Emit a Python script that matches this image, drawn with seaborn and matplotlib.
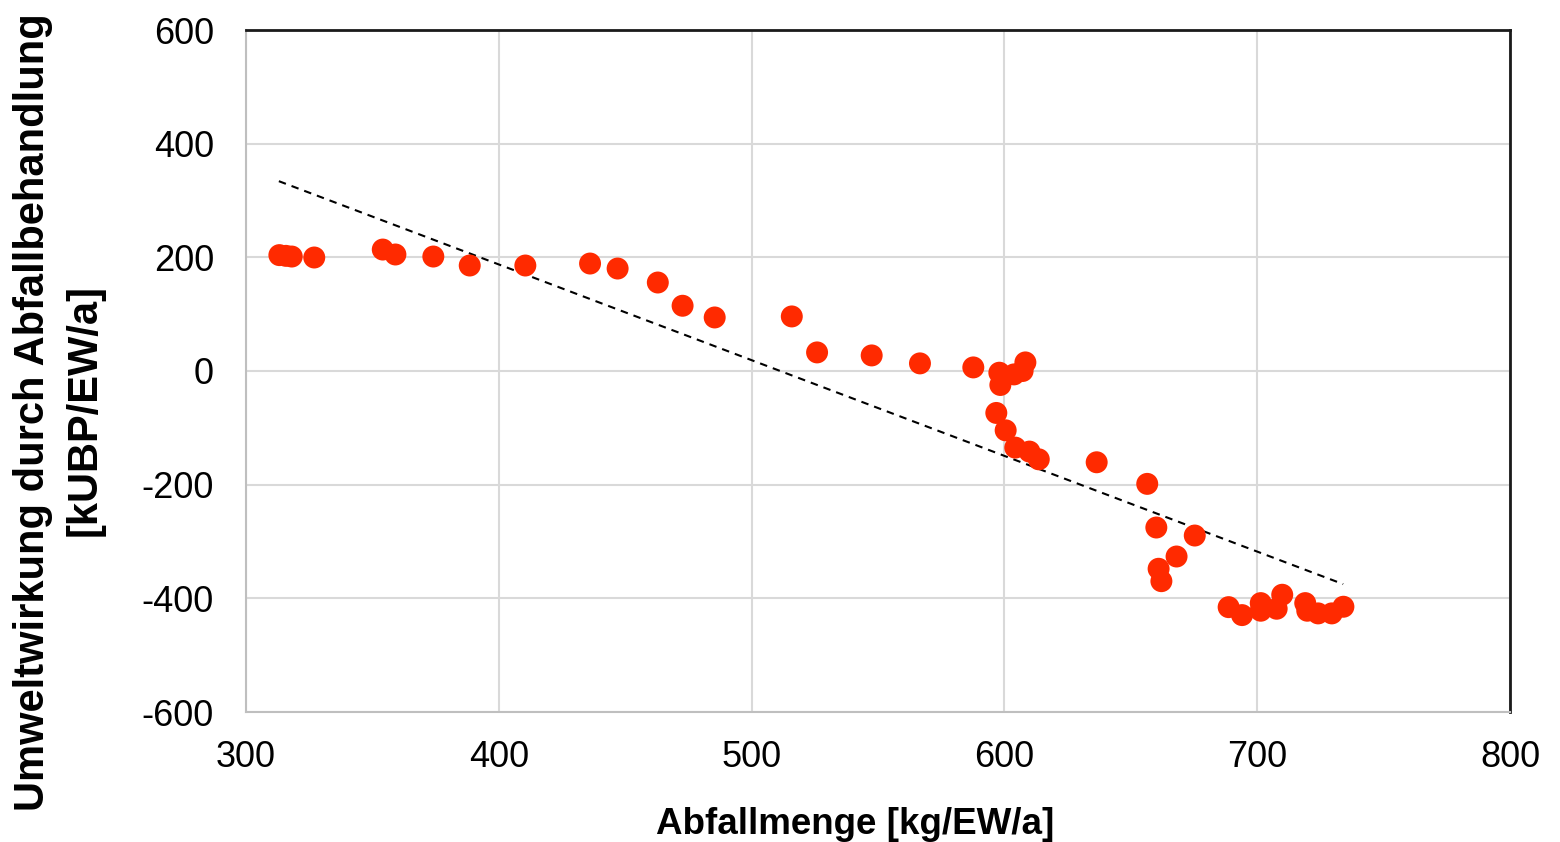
import matplotlib
matplotlib.use("Agg")
import matplotlib.pyplot as plt
import seaborn as sns
import pandas as pd

# Waste quantity per inhabitant and year vs. environmental impact of waste treatment
abfallmenge = [313.2, 315.8, 318.1, 327.0, 354.1, 359.1, 374.1, 388.5, 410.5,
               436.1, 447.0, 462.9, 472.7, 485.4, 515.9, 525.9, 547.5, 566.6,
               587.7, 598.0, 598.4, 603.8, 607.2, 608.3, 596.8, 600.5, 604.3,
               609.9, 613.6, 636.5, 656.5, 660.1, 675.3, 668.1, 661.0, 662.1,
               688.7, 694.0, 701.4, 701.4, 707.7, 709.9, 719.0, 719.8, 724.1,
               729.5, 734.1]
umweltwirkung = [203.9, 202.6, 201.4, 199.7, 213.7, 205.0, 201.4, 185.6, 185.6,
                 189.1, 180.3, 155.7, 114.8, 94.2, 96.0, 32.7, 27.4, 13.4,
                 6.3, -3.0, -24.6, -6.0, 0.0, 15.1, -73.8, -104.4, -134.8,
                 -141.8, -155.4, -160.6, -198.6, -275.4, -289.5, -326.4, -348.0, -369.8,
                 -415.5, -429.5, -408.4, -421.8, -418.3, -393.7, -408.4, -421.8, -426.5,
                 -426.5, -414.8]

# Linear trend line endpoints
trend_x = [313.0, 734.0]
trend_y = [334.0, -375.0]

x_ticks = [300, 400, 500, 600, 700, 800]
y_ticks = [-600, -400, -200, 0, 200, 400, 600]

sns.set_theme(style="white")
plt.rcParams["font.family"] = ["Liberation Sans", "DejaVu Sans"]
plt.rcParams["axes.unicode_minus"] = False
plt.rcParams["text.color"] = "black"

df = pd.DataFrame({"x": abfallmenge, "y": umweltwirkung})

fig = plt.figure(figsize=(15.6, 8.42), dpi=100)
ax = fig.add_axes([246 / 1560, 1 - 712 / 842, (1510 - 246) / 1560, (712 - 30) / 842])

ax.grid(True, color="#d9d9d9", linewidth=1.5, zorder=0)
ax.set_axisbelow(True)

sns.lineplot(x=trend_x, y=trend_y, ax=ax, color="black", linewidth=1.5,
             linestyle=(0, (3.6, 2.9)), zorder=2)
sns.scatterplot(data=df, x="x", y="y", ax=ax, color="#ff2a00", s=250,
                edgecolor="none", linewidth=0, zorder=3)

ax.set_xlim(300, 800)
ax.set_ylim(-600, 600)
ax.set_xticks(x_ticks)
ax.set_yticks(y_ticks)
ax.tick_params(axis="both", labelsize=26, length=0, colors="black")
ax.tick_params(axis="x", pad=20)
ax.tick_params(axis="y", pad=23)

for side in ("top", "right"):
    ax.spines[side].set_color("#1a1a1a")
    ax.spines[side].set_linewidth(2)
for side in ("left", "bottom"):
    ax.spines[side].set_color("#bfbfbf")
    ax.spines[side].set_linewidth(1.5)

ax.set_xlabel("")
ax.set_ylabel("")
fig.text(855 / 1560, 1 - 825 / 842, "Abfallmenge [kg/EW/a]", ha="center", va="center",
         fontsize=26.5, fontweight="bold")
fig.text(33 / 1560, 1 - 412 / 842, "Umweltwirkung durch Abfallbehandlung",
         ha="center", va="center", rotation=90, fontsize=30, fontweight="bold")
fig.text(85 / 1560, 1 - 410 / 842, "[kUBP/EW/a]",
         ha="center", va="center", rotation=90, fontsize=30, fontweight="bold")

fig.savefig("out.png", dpi=100, facecolor="white")
